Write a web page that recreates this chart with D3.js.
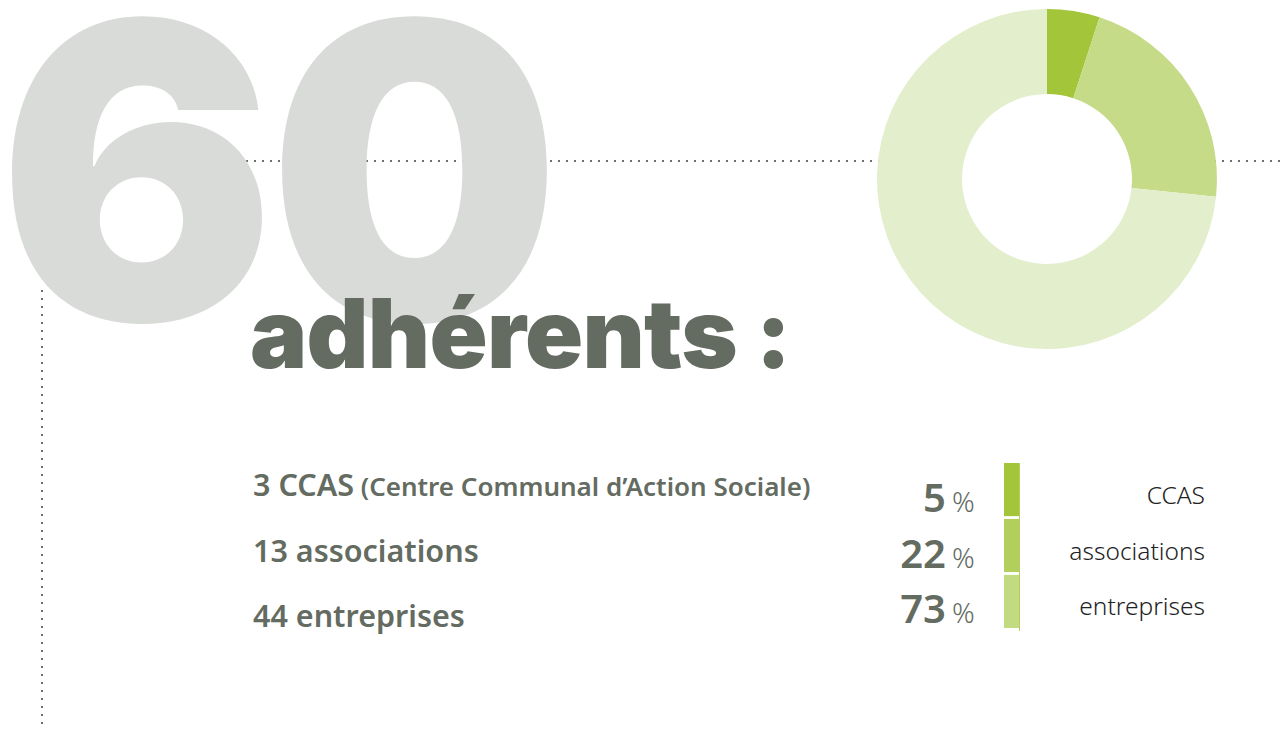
<!DOCTYPE html>
<html>
<head>
<meta charset="utf-8">
<script src="https://cdn.jsdelivr.net/npm/d3@7"></script>
<style>
  html, body { margin: 0; padding: 0; background: #fff; }
  svg { display: block; }
</style>
</head>
<body>
<div id="chart"></div>
<script>
// data
var total = "60";
var categories = ["CCAS", "associations", "entreprises"];
var counts = [3, 13, 44];
var percents = [5, 22, 73];
var listLabels = ["3 CCAS", "13 associations", "44 entreprises"];
var listNotes = [" (Centre Communal d\u2019Action Sociale)", "", ""];

var sliceColors = ["#a2c53a", "#c5db88", "#e3eecd"];
var barColors = ["#a2c53a", "#b2cf5d", "#c2da80"];

var width = 1280, height = 729;
var grey = "#646b61";
var bodyFont = "'Noto Sans', Lato, sans-serif";
var heavyFont = "Inter, Roboto, sans-serif";

var svg = d3.select("#chart").append("svg")
    .attr("width", width)
    .attr("height", height);

svg.append("rect").attr("width", width).attr("height", height).attr("fill", "#fff");

// dotted guide lines (behind everything)
svg.append("line")
    .attr("x1", 150).attr("x2", width)
    .attr("y1", 161).attr("y2", 161)
    .attr("stroke", "#6d6d6d")
    .attr("stroke-width", 2)
    .attr("stroke-dasharray", "2,6");

svg.append("line")
    .attr("x1", 42).attr("x2", 42)
    .attr("y1", 290).attr("y2", height)
    .attr("stroke", "#6d6d6d")
    .attr("stroke-width", 2)
    .attr("stroke-dasharray", "2,6");

// big number
svg.append("text")
    .attr("x", -2)
    .attr("y", 320)
    .attr("font-family", heavyFont)
    .attr("font-weight", 900)
    .attr("font-size", 412)
    .attr("letter-spacing", -8)
    .attr("fill", "#d9dbd8")
    .text(total);

// donut
var pie = d3.pie().sort(null).value(d => d);
var arc = d3.arc().innerRadius(85).outerRadius(170);

var donut = svg.append("g")
    .attr("transform", "translate(1047,179)");

donut.append("circle")
    .attr("r", 85)
    .attr("fill", "#fff");

donut.selectAll("path")
    .data(pie(counts))
    .enter()
    .append("path")
    .attr("d", arc)
    .attr("fill", (d, i) => sliceColors[i]);

// title
svg.append("text")
    .attr("x", 250)
    .attr("y", 368)
    .attr("font-family", heavyFont)
    .attr("font-weight", 900)
    .attr("font-size", 96)
    .attr("letter-spacing", -0.7)
    .attr("fill", grey)
    .text("adh\u00e9rents :");

// left list
var rowY = d3.scalePoint()
    .domain(categories)
    .range([496, 627]);

var list = svg.append("g");
list.selectAll("text")
    .data(categories)
    .enter()
    .append("text")
    .attr("x", 253)
    .attr("y", d => rowY(d))
    .attr("font-family", bodyFont)
    .attr("font-weight", 600)
    .attr("font-size", 30.5)
    .attr("fill", grey)
    .each(function (d, i) {
        var t = d3.select(this);
        t.append("tspan").text(listLabels[i]);
        if (listNotes[i]) {
            t.append("tspan")
                .attr("font-size", 26)
                .text(listNotes[i]);
        }
    });

// legend bar
var barY = d3.scaleBand()
    .domain(categories)
    .range([463, 628])
    .paddingInner(0.05);

svg.selectAll(".seg")
    .data(categories)
    .enter()
    .append("rect")
    .attr("class", "seg")
    .attr("x", 1004)
    .attr("width", 16)
    .attr("y", d => barY(d))
    .attr("height", barY.bandwidth())
    .attr("fill", (d, i) => barColors[i]);

svg.append("line")
    .attr("x1", 1019.5).attr("x2", 1019.5)
    .attr("y1", 463).attr("y2", 631)
    .attr("stroke", "#b2cf5d")
    .attr("stroke-width", 1);

// percentages
var pctY = d3.scalePoint()
    .domain(categories)
    .range([512, 623]);

svg.selectAll(".pct")
    .data(categories)
    .enter()
    .append("text")
    .attr("class", "pct")
    .attr("x", 946)
    .attr("y", d => pctY(d))
    .attr("text-anchor", "end")
    .attr("font-family", bodyFont)
    .attr("font-weight", 600)
    .attr("font-size", 40)
    .attr("fill", grey)
    .text((d, i) => percents[i]);

svg.selectAll(".pctSign")
    .data(categories)
    .enter()
    .append("text")
    .attr("class", "pctSign")
    .attr("x", 952)
    .attr("y", d => pctY(d))
    .attr("font-family", bodyFont)
    .attr("font-weight", 300)
    .attr("font-size", 28)
    .attr("fill", grey)
    .text("%");

// category labels
var labY = d3.scalePoint()
    .domain(categories)
    .range([504, 615]);

svg.selectAll(".lab")
    .data(categories)
    .enter()
    .append("text")
    .attr("class", "lab")
    .attr("x", 1205)
    .attr("y", d => labY(d))
    .attr("text-anchor", "end")
    .attr("font-family", bodyFont)
    .attr("font-weight", 300)
    .attr("font-size", 24.5)
    .attr("fill", "#222")
    .text(d => d);
</script>
</body>
</html>
